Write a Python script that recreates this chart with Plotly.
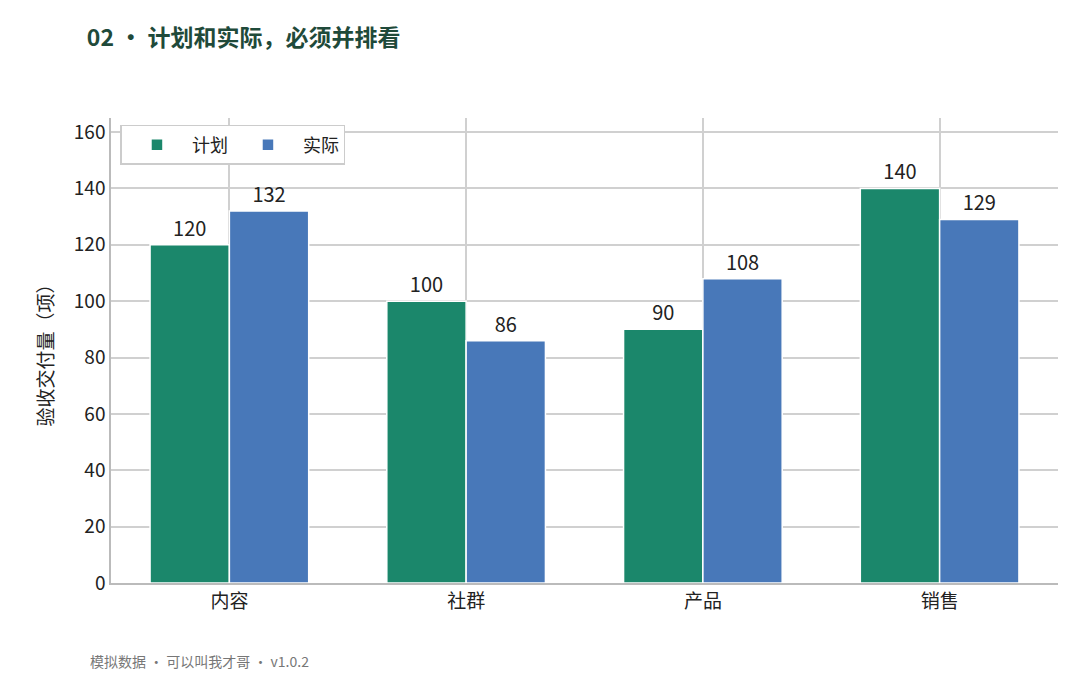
import plotly.graph_objects as go

categories = ["内容", "社群", "产品", "销售"]
plan = [120, 100, 90, 140]
actual = [132, 86, 108, 129]
yticks = [0, 20, 40, 60, 80, 100, 120, 140, 160]

font = "Noto Sans CJK SC"
fig = go.Figure()
fig.add_bar(name="计划", x=categories, y=plan, marker=dict(color="#1b876b", line=dict(color="white", width=1.5)),
            text=plan, textposition="outside", textfont=dict(size=20, color="#222"), cliponaxis=False)
fig.add_bar(name="实际", x=categories, y=actual, marker=dict(color="#4878b9", line=dict(color="white", width=1.5)),
            text=actual, textposition="outside", textfont=dict(size=20, color="#222"), cliponaxis=False)
fig.update_layout(
    width=1080, height=675, plot_bgcolor="white", paper_bgcolor="white",
    font=dict(family=font, size=17, color="#222"),
    margin=dict(l=103, r=30, t=110, b=100),
    barmode="group", bargap=0.33, bargroupgap=0,
    title=dict(text="<b>02 • 计划和实际，必须并排看</b>", x=0.073, xanchor="left", y=0.955, yanchor="middle",
               font=dict(size=23, color="#1f4a3a", family=font)),
    legend=dict(orientation="h", x=0.01, y=0.985, xanchor="left", yanchor="top", bordercolor="#cccccc",
                borderwidth=1.5, bgcolor="white", font=dict(size=18), itemwidth=60),
    xaxis=dict(showgrid=True, gridcolor="#d0d0d0", gridwidth=1.5, showline=True, linecolor="#bbbbbb", linewidth=1.5,
               ticks="", tickfont=dict(size=19)),
    yaxis=dict(range=[0, 165], tickvals=yticks, showgrid=True, gridcolor="#d0d0d0", gridwidth=1.5, showline=True,
               linecolor="#bbbbbb", linewidth=1.5, zeroline=False, tickfont=dict(size=19),
               title=dict(text="验收交付量（项）", font=dict(size=19, color="#222"))),
)
fig.add_annotation(text="模拟数据 · 可以叫我才哥 · v1.0.2", xref="paper", yref="paper", x=-0.024, y=-0.168,
                   xanchor="left", yanchor="middle", showarrow=False, font=dict(size=14, color="#777"))
fig.write_html("out.html")
